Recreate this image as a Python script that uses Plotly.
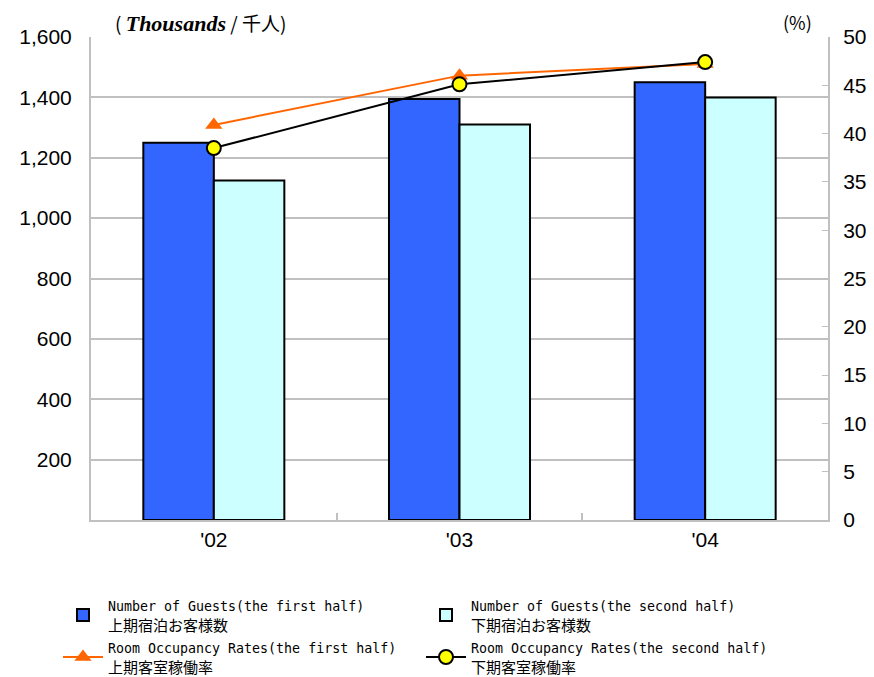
import plotly.graph_objects as go

categories = ["'02", "'03", "'04"]
guests_first = [1250, 1395, 1450]
guests_second = [1125, 1310, 1400]
rate_first = [40.9, 46.0, 47.2]
rate_second = [38.5, 45.1, 47.4]
left_ticks = [200, 400, 600, 800, 1000, 1200, 1400, 1600]
left_tick_labels = ["200", "400", "600", "800", "1,000", "1,200", "1,400", "1,600"]
right_ticks = [0, 5, 10, 15, 20, 25, 30, 35, 40, 45, 50]

names = [
    "Number of Guests(the first half)",
    "Number of Guests(the second half)",
    "Room Occupancy Rates(the first half)",
    "Room Occupancy Rates(the second half)",
]
names_ja = ["上期宿泊お客様数", "下期宿泊お客様数", "上期客室稼働率", "下期客室稼働率"]


def lbl(en, ja):
    return ("<span style='font-family:DejaVu Sans Mono;font-size:13.3px'>" + en
            + "</span><br>" + ja)


# page body has an 8px margin: shift layout by -8px
OFF = 8
W, H = 874, 677

fig = go.Figure()
fig.add_trace(go.Bar(x=categories, y=guests_first, name=lbl(names[0], names_ja[0]),
                     marker=dict(color="#3366FF", line=dict(color="black", width=2))))
fig.add_trace(go.Bar(x=categories, y=guests_second, name=lbl(names[1], names_ja[1]),
                     marker=dict(color="#CCFFFF", line=dict(color="black", width=2))))
fig.add_trace(go.Scatter(x=categories, y=rate_first, yaxis="y2", mode="lines+markers",
                         name=lbl(names[2], names_ja[2]),
                         line=dict(color="#FF6600", width=2),
                         marker=dict(symbol="triangle-up", size=15, color="#FF6600")))
fig.add_trace(go.Scatter(x=categories, y=rate_second, yaxis="y2", mode="lines+markers",
                         name=lbl(names[3], names_ja[3]),
                         line=dict(color="black", width=2),
                         marker=dict(symbol="circle", size=14, color="#FFFF00",
                                     line=dict(color="black", width=2))))

tickfont = dict(family="Liberation Sans, Arial", size=21, color="black")
fig.update_layout(
    width=W, height=H,
    margin=dict(l=91 - OFF, r=W - 828 + OFF, t=37 - OFF, b=H - 520 + OFF),
    paper_bgcolor="white", plot_bgcolor="white",
    barmode="group", bargap=0.426, bargroupgap=0,
    showlegend=True,
    legend=dict(orientation="h", xref="container", yref="container",
                x=(58 - OFF) / W, xanchor="left", y=(H - (598 - OFF - 9)) / H, yanchor="top",
                entrywidth=308, itemwidth=40,
                font=dict(family="Noto Sans CJK JP", size=15, color="black"),
                tracegroupgap=0, bgcolor="rgba(0,0,0,0)"),
    xaxis=dict(showline=True, linecolor="#C0C0C0", linewidth=2, ticks="inside",
               tickson="boundaries", ticklen=7, tickcolor="#C0C0C0", tickwidth=2,
               tickfont=tickfont, showgrid=False, zeroline=False),
    yaxis=dict(range=[0, 1600], tickvals=left_ticks, ticktext=left_tick_labels,
               showline=True, linecolor="#C0C0C0", linewidth=2, showgrid=True,
               gridcolor="#C0C0C0", gridwidth=2, zeroline=False, ticks="",
               tickfont=tickfont, automargin=False, ticklabelstandoff=13),
    yaxis2=dict(range=[0, 50], tickvals=right_ticks, overlaying="y", side="right",
                showline=True, linecolor="#C0C0C0", linewidth=2, showgrid=False,
                zeroline=False, ticks="inside", ticklen=6, tickcolor="#C0C0C0",
                tickwidth=1, tickfont=tickfont, automargin=False, ticklabelstandoff=9),
    annotations=[
        dict(xref="paper", yref="paper", x=(113 - 91) / 737, y=1 + 15 / 483,
             xanchor="left", yanchor="middle", showarrow=False,
             text="( <span style='font-family:Liberation Serif;font-size:22px'><b><i>Thousands</i></b></span> / 千人)",
             font=dict(family="Noto Sans CJK JP", size=19, color="black")),
        dict(xref="paper", yref="paper", x=(797 - 91) / 737, y=1 + 15 / 483,
             xanchor="center", yanchor="middle", showarrow=False, text="(%)",
             font=dict(family="Noto Sans CJK JP", size=18, color="black")),
    ],
)

fig.write_html("out.html")
